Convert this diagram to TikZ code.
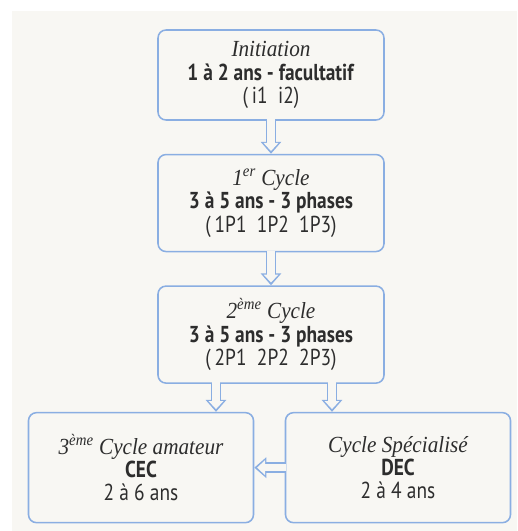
\documentclass[tikz,border=0pt]{standalone}
\usepackage{fontspec}
\setsansfont{PT Sans}[FakeStretch=0.84]
\newfontfamily\cursivefont{Liberation Serif}[FakeStretch=0.92]
\usetikzlibrary{positioning, arrows.meta}
\definecolor{boxblue}{RGB}{138,174,226}
\definecolor{paper}{RGB}{248,247,243}
\definecolor{inkgray}{RGB}{45,45,45}

\begin{document}
\begin{tikzpicture}[
    cyclebox/.style={rectangle, rounded corners=0.2cm, draw=boxblue, fill=paper, line width=1.1pt, minimum width=5.65cm, text=inkgray, align=center, inner sep=0pt, font=\fontsize{16.4}{16.6}\selectfont\sffamily},
    hollow/.style={draw=paper, line width=0.19cm, -{Triangle[length=0.2cm, width=0.36cm]}, shorten >=0.07cm, shorten <=-0.04cm,
        preaction={draw=boxblue, line width=0.27cm, -{Triangle[length=0.3cm, width=0.5cm]}, shorten >=0cm, shorten <=-0.02cm}}
    ]
    \useasboundingbox (0,0) rectangle (12.925,-13.275);
    \fill[paper] (0.3,-0.275) rectangle (12.925,-13.275);

    \node[cyclebox, minimum height=2.25cm] (init) at (6.775,-1.875)
        {{\cursivefont\itshape Initiation}\\ \textbf{1 à 2 ans - facultatif}\\ (\,i1\ \ i2)};
    \node[cyclebox, minimum height=2.425cm] (first) [below=0.825cm of init]
        {{\cursivefont\itshape 1\textsuperscript{er} Cycle}\\ \textbf{3 à 5 ans - 3 phases}\\ (\,1P1\ \ 1P2\ \ 1P3)};
    \node[cyclebox, minimum height=2.425cm] (second) [below=0.825cm of first]
        {{\cursivefont\itshape 2\textsuperscript{ème} Cycle}\\ \textbf{3 à 5 ans - 3 phases}\\ (\,2P1\ \ 2P2\ \ 2P3)};
    \node[cyclebox, minimum height=2.75cm, minimum width=5.625cm] (amateur) [below=0.7cm of second, xshift=-3.25cm]
        {{\cursivefont\itshape 3\textsuperscript{ème} Cycle amateur}\\ \textbf{CEC}\\ 2 à 6 ans};
    \node[cyclebox, minimum height=2.75cm, minimum width=5.625cm] (special) [below=0.7cm of second, xshift=3.175cm]
        {{\cursivefont\itshape Cycle Spécialisé}\\ \textbf{DEC}\\ 2 à 4 ans};

    \coordinate (leftdrop) at ([xshift=-1.375cm]second.south);
    \coordinate (rightdrop) at ([xshift=1.525cm]second.south);

    \draw[hollow] (init.south) -- (first.north);
    \draw[hollow] (first.south) -- (second.north);
    \draw[hollow] (leftdrop) -- (leftdrop |- amateur.north);
    \draw[hollow] (rightdrop) -- (rightdrop |- special.north);
    \draw[hollow] (special.west) -- (amateur.east);
\end{tikzpicture}
\end{document}
